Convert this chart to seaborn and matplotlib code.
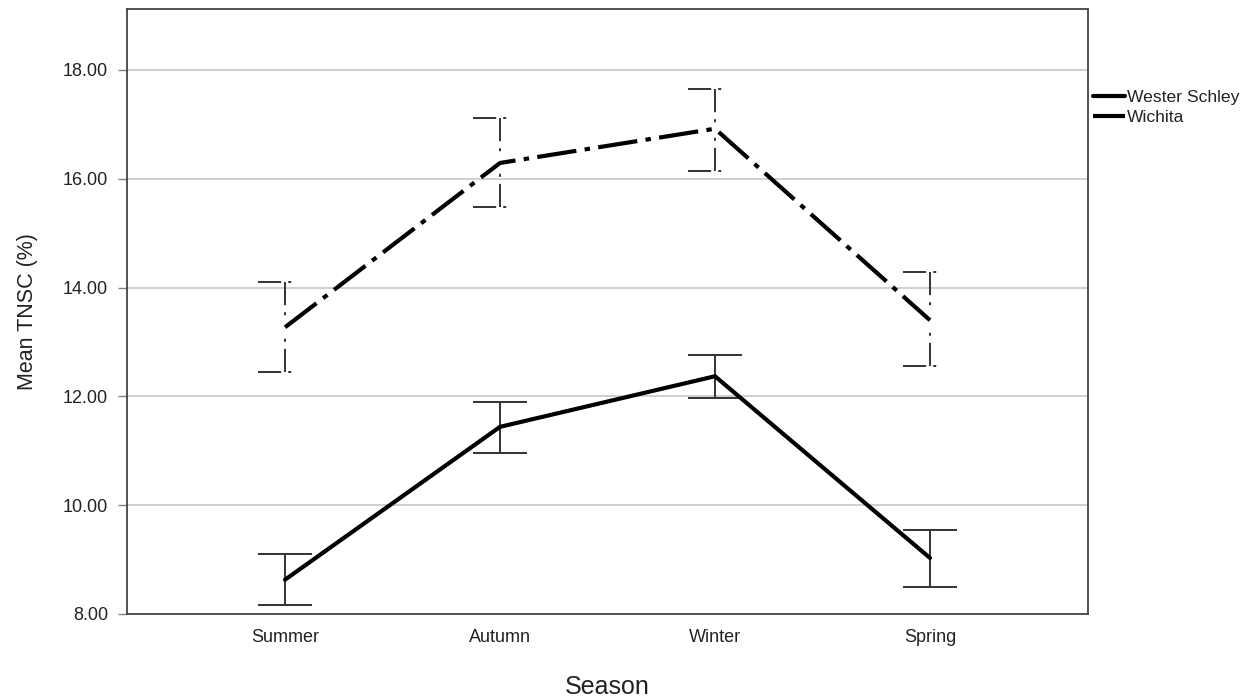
import numpy as np
import pandas as pd
import matplotlib
matplotlib.use("Agg")
import matplotlib.pyplot as plt
import seaborn as sns

# Mean total non-structural carbohydrates by season for two pecan cultivars
seasons = ["Summer", "Autumn", "Winter", "Spring"]
cultivars = ["Wester Schley", "Wichita"]

wester_mean = [8.63, 11.44, 12.37, 9.03]
wester_low = [8.16, 10.96, 11.97, 8.50]
wester_high = [9.10, 11.90, 12.76, 9.54]

wichita_mean = [13.27, 16.29, 16.92, 13.40]
wichita_low = [12.45, 15.48, 16.15, 12.55]
wichita_high = [14.10, 17.11, 17.65, 14.29]

y_ticks = [8, 10, 12, 14, 16, 18]
y_tick_labels = ["8.00", "10.00", "12.00", "14.00", "16.00", "18.00"]

sns.set_theme(style="white")
plt.rcParams["font.family"] = ["Liberation Sans", "DejaVu Sans"]

df = pd.DataFrame({
    "Season": seasons * 2,
    "TNSC": wester_mean + wichita_mean,
    "Cultivar": [cultivars[0]] * 4 + [cultivars[1]] * 4,
})

fig = plt.figure(figsize=(12.58, 6.99), dpi=100)
ax = fig.add_axes([127 / 1258, 1 - 614 / 699, (1088 - 127) / 1258, (614 - 9) / 699])

mean_dash = (9.5, 2.0, 1.3, 2.0)
sns.lineplot(
    data=df, x="Season", y="TNSC", hue="Cultivar", style="Cultivar",
    palette={cultivars[0]: "black", cultivars[1]: "black"},
    dashes={cultivars[0]: "", cultivars[1]: mean_dash},
    linewidth=3.0, sort=False, ax=ax, zorder=4, legend=True,
)
handles, labels = ax.get_legend_handles_labels()
ax.get_legend().remove()

# Error bars: each half runs from its cap toward the mean
err_color = "#383838"
err_lw = 1.45
cap_half = 0.125
bar_dash = (0, (11.5, 3.5, 1.5, 16))


def draw_errorbars(means, lows, highs, ls):
    for i, (m, lo, hi) in enumerate(zip(means, lows, highs)):
        for end in (lo, hi):
            ax.plot([i, i], [end, m], color=err_color, lw=err_lw, ls=ls,
                    solid_capstyle="butt", zorder=3)
            ax.plot([i - cap_half, i + cap_half], [end, end], color=err_color,
                    lw=err_lw, ls=ls, solid_capstyle="butt", zorder=3)


draw_errorbars(wester_mean, wester_low, wester_high, "-")
draw_errorbars(wichita_mean, wichita_low, wichita_high, bar_dash)

ax.set_xlim(-0.735, 3.735)
ax.set_ylim(8, 19.12)
ax.set_yticks(y_ticks)
ax.set_yticklabels(y_tick_labels)
ax.yaxis.grid(True, color="#c4c4c4", lw=1.1)
ax.set_axisbelow(True)

ax.tick_params(axis="y", left=True, length=6.5, width=1, color="#808080",
               pad=7, labelsize=13, labelcolor="#222222")
ax.tick_params(axis="x", bottom=False, length=0, pad=11, labelsize=13,
               labelcolor="#222222")

for side in ["left", "right", "top", "bottom"]:
    ax.spines[side].set_visible(True)
    ax.spines[side].set_color("#444444")
    ax.spines[side].set_linewidth(1.3)

ax.set_xlabel("Season", fontsize=18, labelpad=21, color="#222222")
ax.set_ylabel("Mean TNSC (%)", fontsize=15.5, labelpad=18, color="#222222")

ax.legend(handles, labels, loc="upper left", bbox_to_anchor=(1.005, 0.866),
          frameon=False, borderpad=0, borderaxespad=0, handlelength=1.85,
          handletextpad=0.1, labelspacing=0.28, fontsize=12.6,
          labelcolor="#222222")

fig.savefig("out.png", dpi=100)
